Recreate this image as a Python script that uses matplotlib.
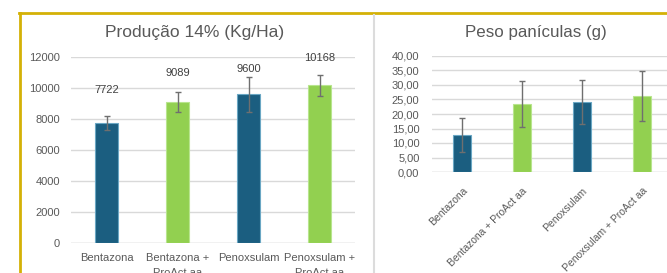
import matplotlib
matplotlib.use("Agg")
import matplotlib.pyplot as plt
from matplotlib.lines import Line2D
import numpy as np

plt.rcParams['font.family'] = ['Liberation Sans', 'DejaVu Sans']

# ---- data ----
categories_left = ["Bentazona", "Bentazona +\nProAct aa", "Penoxsulam", "Penoxsulam +\nProAct aa"]
producao = [7722, 9089, 9600, 10168]
producao_err = [450, 640, 1130, 680]
producao_labels = ["7722", "9089", "9600", "10168"]

categories_right = ["Bentazona", "Bentazona + ProAct aa", "Penoxsulam", "Penoxsulam + ProAct aa"]
peso = [12.8, 23.4, 24.0, 26.2]
peso_err = [5.9, 7.9, 7.6, 8.7]

left_ticks = [0, 2000, 4000, 6000, 8000, 10000, 12000]
right_ticks = [0, 5, 10, 15, 20, 25, 30, 35, 40]

# ---- style ----
BLUE = "#1b5e80"
GREEN = "#92d050"
bar_colors = [BLUE, GREEN, BLUE, GREEN]
edge_colors = ["#6aa7c4", "#b8e58e", "#6aa7c4", "#b8e58e"]
GRID = "#d9d9d9"
TXT = "#595959"
ERR = "#6f6f6f"
GOLD = "#d4b106"
label_offsets_pt = [24, 21, 18, 20]

W, H = 667, 273
fig = plt.figure(figsize=(W / 100, H / 100), dpi=100)
fig.patch.set_facecolor("white")

def fx(px):
    return px / W

def fy(py):
    return 1 - py / H

def style_axes(ax):
    for s in ax.spines.values():
        s.set_visible(False)
    ax.yaxis.grid(True, color=GRID, linewidth=1.0)
    ax.set_axisbelow(True)
    ax.tick_params(axis='both', length=0, colors=TXT, labelsize=8)
    ax.axhline(0, color=GRID, linewidth=1.0, zorder=0.5)

# ---- left chart ----
axL = fig.add_axes([fx(71), fy(243), fx(355 - 71), (243 - 57) / H])
x = np.arange(len(producao))
axL.bar(x, producao, width=0.31, color=bar_colors, edgecolor=edge_colors, linewidth=0.8, zorder=2)
axL.errorbar(x, producao, yerr=producao_err, fmt='none', ecolor=ERR, elinewidth=1.0,
             capsize=2.5, capthick=1.0, zorder=3)
for xi, v, lab, off in zip(x, producao, producao_labels, label_offsets_pt):
    axL.annotate(lab, (xi, v), xytext=(0, off), textcoords='offset points',
                 ha='center', va='center', fontsize=8, color="#404040")
axL.set_xlim(-0.5, len(producao) - 0.5)
axL.set_ylim(0, 12000)
axL.set_yticks(left_ticks)
axL.set_yticklabels([str(t) for t in left_ticks])
axL.set_xticks(x)
axL.set_xticklabels(categories_left, linespacing=1.7)
style_axes(axL)
axL.tick_params(axis='x', pad=7)
axL.tick_params(axis='y', pad=8)
fig.text(fx(195), fy(32), "Produção 14% (Kg/Ha)", ha='center', va='center',
         fontsize=12.5, color=TXT)

# ---- right chart ----
axR = fig.add_axes([fx(432), fy(172), fx(672 - 432), (172 - 56) / H])
x2 = np.arange(len(peso))
axR.bar(x2, peso, width=0.3, color=bar_colors, edgecolor=edge_colors, linewidth=0.8, zorder=2)
axR.errorbar(x2, peso, yerr=peso_err, fmt='none', ecolor=ERR, elinewidth=1.0,
             capsize=2.5, capthick=1.0, zorder=3)
axR.set_xlim(-0.5, len(peso) - 0.5)
axR.set_ylim(0, 40)
axR.set_yticks(right_ticks)
axR.set_yticklabels([f"{t:.2f}".replace('.', ',') for t in right_ticks])
axR.set_xticks(x2)
axR.set_xticklabels(categories_right, rotation=45, ha='right', rotation_mode='anchor')
style_axes(axR)
axR.tick_params(axis='x', pad=10, labelsize=7.5)
axR.tick_params(axis='y', pad=9)
fig.text(fx(536), fy(32), "Peso panículas (g)", ha='center', va='center',
         fontsize=12.2, color=TXT)

# ---- panel borders ----
fig.add_artist(Line2D([fx(20), fx(20)], [fy(12.5), -0.05], color=GOLD, linewidth=2.0))
fig.add_artist(Line2D([fx(19), 1.02], [fy(13), fy(13)], color=GOLD, linewidth=2.0))
fig.add_artist(Line2D([fx(374), fx(374)], [fy(15), -0.05], color="#dcdcdc", linewidth=1.5))

fig.savefig("out.png", dpi=100, facecolor="white")
